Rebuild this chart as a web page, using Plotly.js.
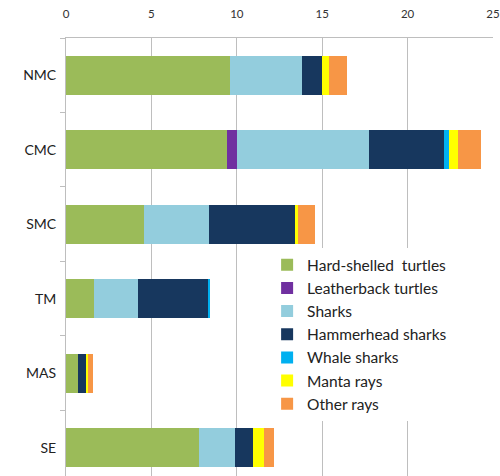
<!DOCTYPE html>
<html>
<head>
<meta charset="utf-8">
<script src="https://cdn.plot.ly/plotly-3.0.1.min.js"></script>
<style>html,body{margin:0;padding:0;background:#fff;}#chart{width:500px;height:476px;}</style>
</head>
<body>
<div id="chart"></div>
<script>
const regions = ["NMC", "CMC", "SMC", "TM", "MAS", "SE"];
const seriesNames = ["Hard-shelled\u00a0 turtles", "Leatherback turtles", "Sharks", "Hammerhead sharks", "Whale sharks", "Manta rays", "Other rays"];
const hardShelled = [9.6, 9.4, 4.55, 1.65, 0.72, 7.8];
const leatherback = [0, 0.62, 0, 0, 0, 0];
const sharks = [4.2, 7.7, 3.8, 2.57, 0, 2.12];
const hammerhead = [1.2, 4.4, 5.05, 4.1, 0.45, 1.03];
const whaleSharks = [0, 0.28, 0, 0.12, 0, 0];
const mantaRays = [0.4, 0.55, 0.2, 0, 0.1, 0.63];
const otherRays = [1.05, 1.35, 0.96, 0, 0.33, 0.58];
const colors = ["#9BBB59", "#7030A0", "#93CDDD", "#17375E", "#00B0F0", "#FFFF00", "#F79646"];

const values = [hardShelled, leatherback, sharks, hammerhead, whaleSharks, mantaRays, otherRays];
const traces = values.map((v, i) => ({
  type: "bar",
  orientation: "h",
  name: seriesNames[i],
  x: v,
  y: regions,
  marker: {color: colors[i], line: {width: 0}},
  hoverinfo: "x+name"
}));

const layout = {
  width: 500,
  height: 476,
  margin: {l: 66, r: 7, t: 38, b: 0},
  barmode: "stack",
  bargap: 0.48,
  paper_bgcolor: "#fff",
  plot_bgcolor: "#fff",
  font: {family: "Lato, 'Open Sans', sans-serif", color: "#222"},
  xaxis: {
    side: "top",
    range: [0, 25],
    dtick: 5,
    tick0: 0,
    showgrid: true,
    gridcolor: "#BEBEBE",
    gridwidth: 1,
    zeroline: false,
    showline: true,
    linecolor: "#BEBEBE",
    linewidth: 1,
    ticks: "",
    ticklabelstandoff: 14,
    tickfont: {size: 11.5, color: "#333"},
    fixedrange: true
  },
  yaxis: {
    type: "category",
    range: [5.38, -0.5],
    showline: true,
    linecolor: "#BEBEBE",
    linewidth: 1,
    ticks: "outside",
    tickson: "boundaries",
    ticklen: 5,
    tickcolor: "#BEBEBE",
    showgrid: false,
    tickfont: {size: 14, color: "#222"},
    ticklabelstandoff: 6,
    fixedrange: true
  },
  showlegend: true,
  legend: {
    x: 0.471,
    y: 0.52,
    xanchor: "left",
    yanchor: "top",
    bgcolor: "rgba(255,255,255,1)",
    traceorder: "normal",
    font: {size: 15.5, color: "#222"},
    itemwidth: 30
  }
};

Plotly.newPlot("chart", traces, layout, {displayModeBar: false, staticPlot: true});
</script>
</body>
</html>
